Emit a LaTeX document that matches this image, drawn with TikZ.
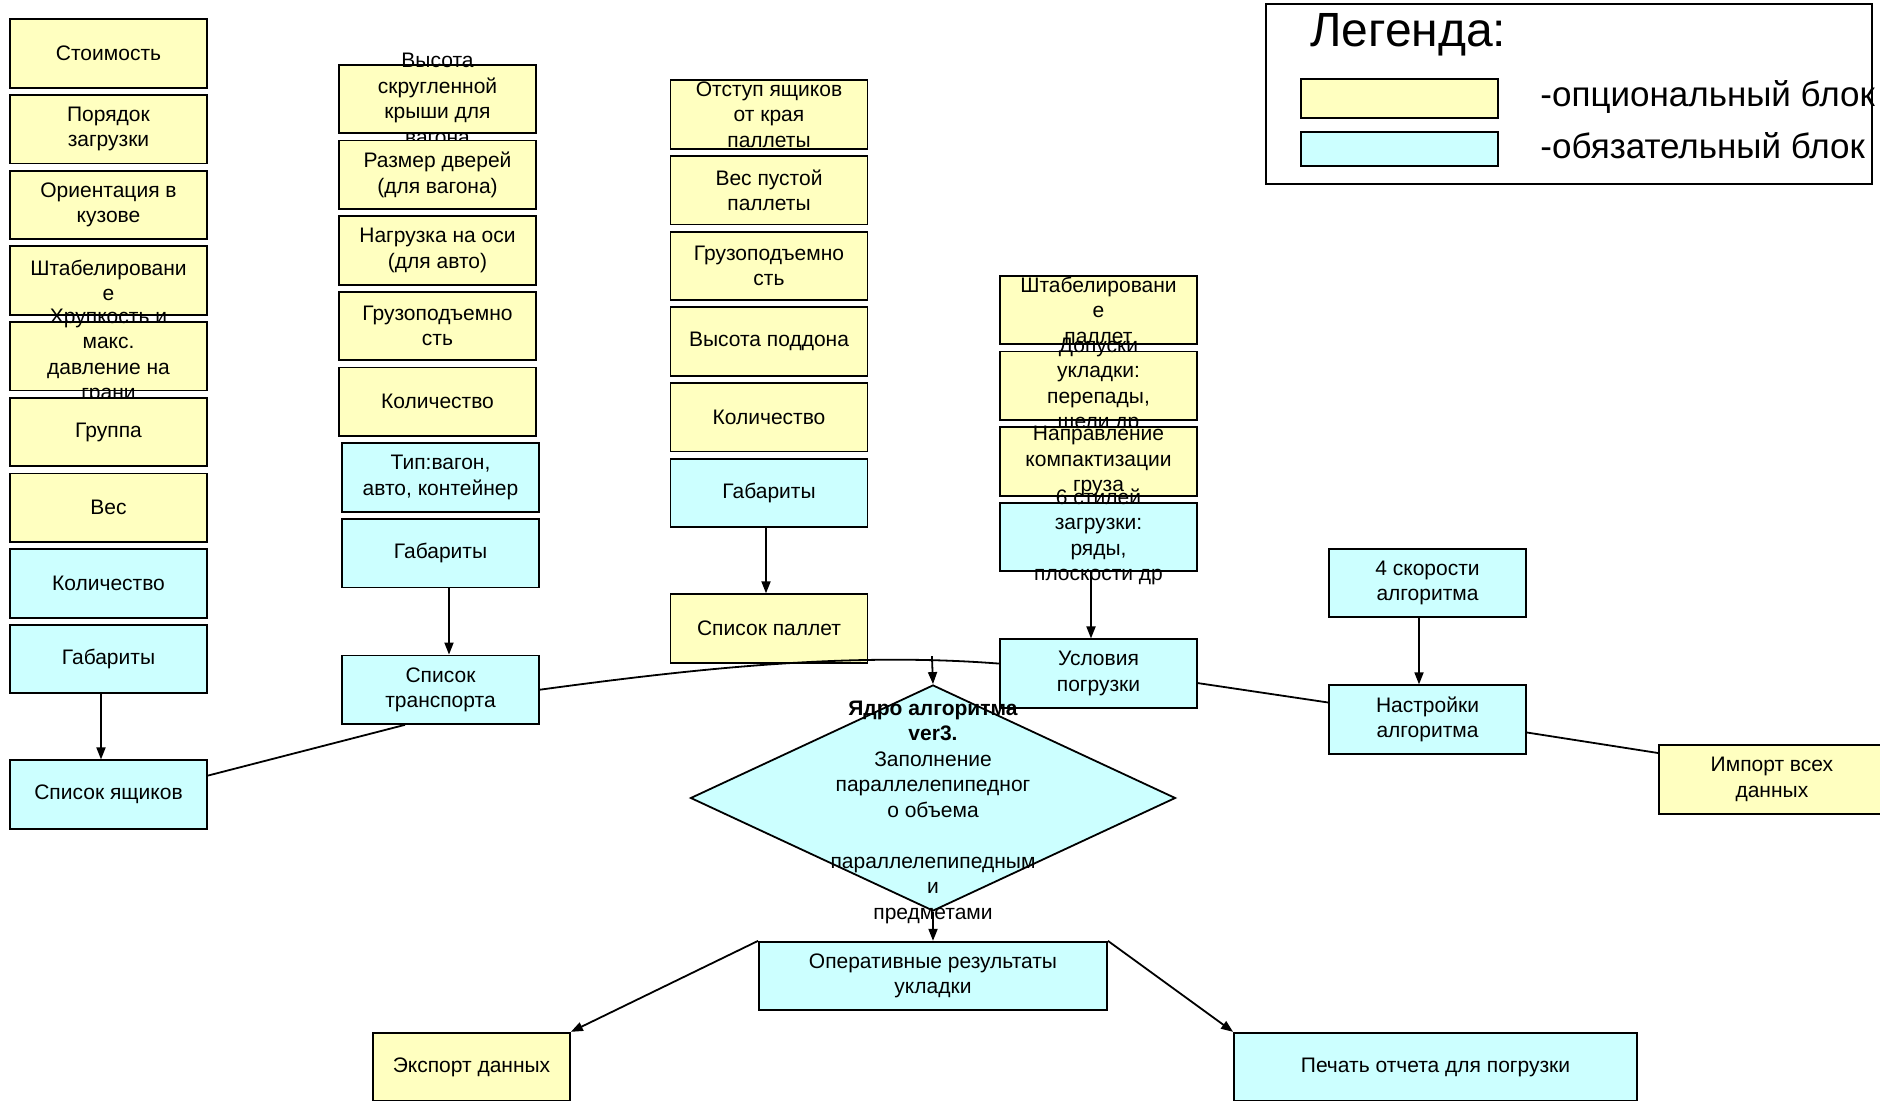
\documentclass[tikz,border=0pt]{standalone}
\usepackage{fontspec}
\setmainfont{Liberation Sans}
\usepackage{xcolor}
\usepackage{tikz}
\usetikzlibrary{shapes.geometric, arrows, arrows.meta, positioning, calc}
\definecolor{optyellow}{HTML}{FFFFC0}
\definecolor{reqcyan}{HTML}{CCFFFF}

\begin{document}
\begin{tikzpicture}[
    x=0.5pt, y=-0.5pt,
    box/.style={draw, rectangle, line width=0.9pt, minimum width=98.5pt, minimum height=34.25pt, inner sep=0pt, align=center, font=\fontsize{10.5}{12.75}\selectfont},
    optbox/.style={box, fill=optyellow},
    reqbox/.style={box, fill=reqcyan},
    txt/.style={align=center, inner sep=0pt, font=\fontsize{10.5}{12.75}\selectfont},
    arrow/.style={line width=0.9pt, ->, >={Triangle[length=6pt, width=4.5pt]}},
    link/.style={line width=0.9pt},
    node distance=2.7pt
]
\clip (0,0) rectangle (1880,1101);

% boxes
\node[optbox] (cost) at (108.5,53.5) {Стоимость};
\node[optbox, below=of cost] (order) {Порядок\\загрузки};
\node[optbox, below=of order] (orient) {Ориентация в\\кузове};
\node[optbox, below=of orient] (stack) {Штабелировани\\е};
\node[optbox, below=of stack] (fragile) {};
\node[txt] (fragiletext) at (fragile) {Хрупкость и\\макс.\\давление на\\грани};
\node[optbox, below=of fragile] (group) {Группа};
\node[optbox, below=of group] (weight) {Вес};
\node[reqbox, below=of weight] (boxqty) {Количество};
\node[reqbox, below=of boxqty] (boxdim) {Габариты};
\node[reqbox, below=32.6pt of boxdim] (boxlist) {Список ящиков};

% transport
\node[optbox] (roof) at (437.5,99) {};
\node[txt] (rooftext) at (roof) {Высота\\скругленной\\крыши для\\вагона};
\node[optbox, below=of roof] (door) {Размер дверей\\(для вагона)};
\node[optbox, below=of door] (axle) {Нагрузка на оси\\(для авто)};
\node[optbox, below=of axle] (transcap) {Грузоподъемно\\сть};
\node[optbox, below=of transcap] (transqty) {Количество};
\node[reqbox, below=of transqty, xshift=1.5pt] (transtype) {Тип:вагон,\\авто, контейнер};
\node[reqbox, below=of transtype] (transdim) {Габариты};
\node[reqbox, below=33.1pt of transdim] (translist) {Список\\транспорта};

% pallets
\node[optbox] (indent) at (769,114.5) {};
\node[txt] (indenttext) at (indent) {Отступ ящиков\\от края\\паллеты};
\node[optbox, below=of indent] (palweight) {Вес пустой\\паллеты};
\node[optbox, below=of palweight] (palcap) {Грузоподъемно\\сть};
\node[optbox, below=of palcap] (palheight) {Высота поддона};
\node[optbox, below=of palheight] (palqty) {Количество};
\node[reqbox, below=of palqty] (paldim) {Габариты};
\node[optbox, below=32.6pt of paldim] (pallist) {Список паллет};

% conditions
\node[optbox] (palstack) at (1098.5,310) {};
\node[txt] (palstacktext) at (palstack) {Штабелировани\\е\\паллет};
\node[optbox, below=of palstack] (toler) {};
\node[txt] (tolertext) at (toler) {Допуски\\укладки:\\перепады,\\щели др};
\node[optbox, below=of toler] (compact) {};
\node[txt] (compacttext) at (compact) {Направление\\компактизации\\груза};
\node[reqbox, below=of compact] (styles) {};
\node[txt] (stylestext) at (styles) {6 стилей\\загрузки:\\ряды,\\плоскости др};
\node[reqbox, below=33.1pt of styles] (cond) {Условия\\погрузки};

% settings
\node[reqbox] (speed) at (1427.5,583) {4 скорости\\алгоритма};
\node[reqbox, below=33.1pt of speed] (settings) {Настройки\\алгоритма};
\node[optbox, minimum width=113pt, anchor=west] (import) at (1658,779.5) {Импорт всех\\данных};

% core
\node[diamond, draw, line width=0.9pt, fill=reqcyan, minimum width=242.5pt, minimum height=113pt, inner sep=0pt] (core) at (933,798) {};
\node[txt] (coretext) at ([yshift=-7pt]core.center) {\textbf{Ядро алгоритма}\\\textbf{ver3.}\\Заполнение\\параллелепипедног\\о объема\\[12.75pt]параллелепипедным\\и\\предметами};

\node[reqbox, minimum width=174pt] (result) at (933,976) {Оперативные результаты\\укладки};
\node[optbox] (export) at (471.5,1067) {Экспорт данных};
\node[reqbox, minimum width=201.5pt] (print) at (1435.5,1067) {Печать отчета для погрузки};

% legend
\node[draw, line width=0.9pt, minimum width=303pt, minimum height=90pt, inner sep=0pt, anchor=north west] (legend) at (1265,3) {};
\node[anchor=base west, inner sep=0pt, font=\fontsize{24}{28}\selectfont] (legtitle) at (1310,47) {Легенда:};
\node[optbox, minimum height=19.5pt, anchor=north west] (legopt) at (1300,78) {};
\node[reqbox, minimum height=17pt, anchor=north west] (legreq) at (1300,131) {};
\node[anchor=base west, inner sep=0pt, font=\fontsize{17.5}{21}\selectfont] (legopttext) at (1540,107) {-опциональный блок};
\node[anchor=base west, inner sep=0pt, font=\fontsize{17.5}{21}\selectfont] (legreqtext) at (1540,159) {-обязательный блок};

% connectors
\draw[arrow] ([xshift=-3.75pt]boxdim.south) -- ([xshift=-3.75pt]boxlist.north);
\draw[arrow] ([xshift=4.25pt]transdim.south) -- ([xshift=4.25pt]translist.north);
\draw[arrow] ([xshift=-1.5pt]paldim.south) -- ([xshift=-1.5pt]pallist.north);
\draw[arrow] ([xshift=-3.75pt]styles.south) -- ([xshift=-3.75pt]cond.north);
\draw[arrow] ([xshift=-4.25pt]speed.south) -- ([xshift=-4.25pt]settings.north);

\draw[link] ([yshift=9.5pt]boxlist.east) -- ([xshift=-17.75pt]translist.south);
\draw[link] (translist.east) .. controls (700,668) and (850,652) .. ([yshift=5pt]cond.west) coordinate[pos=0.85] (bus);
\draw[link] ([yshift=-4.75pt]cond.east) -- ([yshift=8.5pt]settings.west);
\draw[link] ([yshift=-6.5pt]settings.east) -- ([yshift=13.25pt]import.west);

\draw[arrow] ([yshift=2pt]bus) -- (core.north);
\draw[arrow] (core.south) -- (result.north);
\draw[arrow] (result.north west) -- (export.north east);
\draw[arrow] (result.north east) -- (print.north west);

\end{tikzpicture}
\end{document}
